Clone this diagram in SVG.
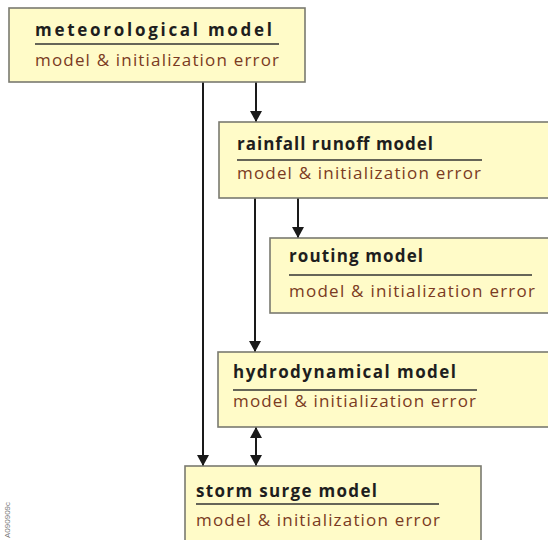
<svg xmlns="http://www.w3.org/2000/svg" width="548" height="540" viewBox="0 0 548 540">
<defs>
<style>
.box{fill:#fffbc8;stroke:#7a7a70;stroke-width:1.6}
.t{font-family:"Open Sans","Liberation Sans",sans-serif;font-weight:700;font-size:17px;fill:#1e1e1e}
.s{font-family:"Open Sans","Liberation Sans",sans-serif;font-size:17px;fill:#7a3a22}
.rule{stroke:#333;stroke-width:1.3}
.c{stroke:#1a1a1a;stroke-width:2;fill:none}
.id{font-family:"Liberation Sans",sans-serif;font-size:8px;fill:#777}
</style>
<marker id="ah" viewBox="0 0 11 12" refX="11" refY="6" markerWidth="11" markerHeight="12" markerUnits="userSpaceOnUse" orient="auto-start-reverse">
<path d="M0,0 L11,6 L0,12 z" fill="#1a1a1a"/>
</marker>
</defs>
<rect width="548" height="540" fill="#ffffff"/>
<g id="connectors">
<line class="c" x1="203" y1="82" x2="203" y2="466" marker-end="url(#ah)"/>
<line class="c" x1="256" y1="82" x2="256" y2="122" marker-end="url(#ah)"/>
<line class="c" x1="255" y1="198" x2="255" y2="352" marker-end="url(#ah)"/>
<line class="c" x1="298" y1="198" x2="298" y2="238" marker-end="url(#ah)"/>
<line class="c" x1="256" y1="427" x2="256" y2="466" marker-start="url(#ah)" marker-end="url(#ah)"/>
</g>
<g id="meteorological">
<rect class="box" x="9" y="8" width="296" height="74"/>
<text class="t" x="35" y="36" textLength="237" lengthAdjust="spacing">meteorological model</text>
<line class="rule" x1="35" y1="44" x2="279" y2="44"/>
<text class="s" x="35" y="66" textLength="244" lengthAdjust="spacing">model &amp; initialization error</text>
</g>
<g id="rainfall">
<rect class="box" x="219" y="122" width="335" height="76"/>
<text class="t" x="237" y="150" textLength="196" lengthAdjust="spacing">rainfall runoff model</text>
<line class="rule" x1="237" y1="160" x2="482" y2="160"/>
<text class="s" x="237" y="179" textLength="244" lengthAdjust="spacing">model &amp; initialization error</text>
</g>
<g id="routing">
<rect class="box" x="270" y="238" width="284" height="75"/>
<text class="t" x="289" y="262" textLength="134" lengthAdjust="spacing">routing model</text>
<line class="rule" x1="289" y1="275" x2="532" y2="275"/>
<text class="s" x="289" y="297" textLength="246" lengthAdjust="spacing">model &amp; initialization error</text>
</g>
<g id="hydrodynamical">
<rect class="box" x="218" y="352" width="336" height="75"/>
<text class="t" x="233" y="378" textLength="223" lengthAdjust="spacing">hydrodynamical model</text>
<line class="rule" x1="233" y1="390" x2="477" y2="390"/>
<text class="s" x="233" y="407" textLength="243" lengthAdjust="spacing">model &amp; initialization error</text>
</g>
<g id="stormsurge">
<rect class="box" x="185" y="466" width="296" height="80"/>
<text class="t" x="196" y="497" textLength="181" lengthAdjust="spacing">storm surge model</text>
<line class="rule" x1="196" y1="504" x2="439" y2="504"/>
<text class="s" x="196" y="526" textLength="244" lengthAdjust="spacing">model &amp; initialization error</text>
</g>
<text class="id" transform="translate(10,538) rotate(-90)">A090909c</text>
</svg>
